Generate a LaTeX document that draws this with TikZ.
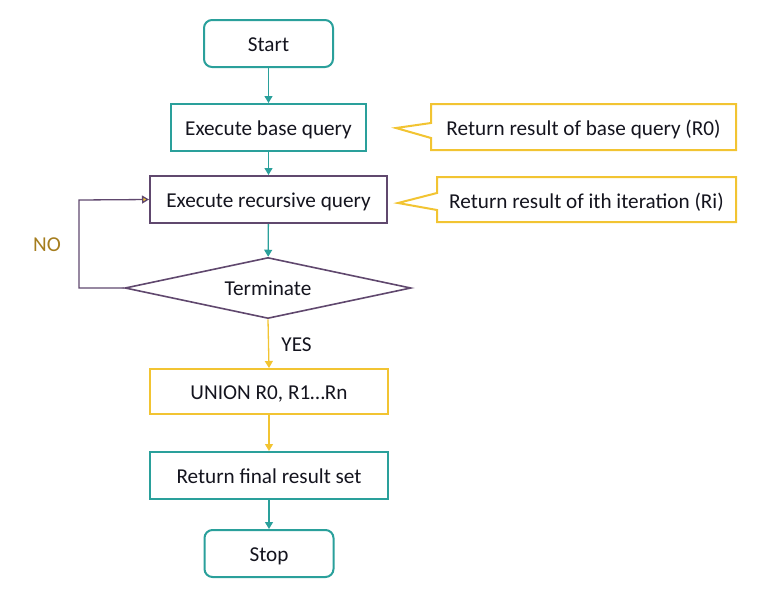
\documentclass[tikz,border=0pt]{standalone}
\usepackage{fontspec}
\setmainfont{Carlito}
\usetikzlibrary{shapes.geometric,arrows.meta}
\definecolor{teal1}{RGB}{42,160,155}
\definecolor{purp}{RGB}{96,72,110}
\definecolor{gold}{RGB}{242,196,50}
\definecolor{nocol}{RGB}{165,125,30}
\definecolor{txt}{RGB}{20,20,30}
\tikzset{
  fnt/.style={font=\fontsize{21.2}{25}\selectfont, text height=15pt, text depth=0pt},
  base/.style={draw, line width=2pt, text=txt, fnt, inner sep=0pt, anchor=center},
  termbox/.style={base, draw=teal1, rounded corners=8pt, minimum width=129pt, minimum height=47pt},
  procbox/.style={base, minimum width=238pt, minimum height=46pt},
  arr/.style={line width=1.3pt, -{Triangle[length=7pt,width=8pt]}},
}
\begin{document}
\begin{tikzpicture}[x=1pt,y=-1pt]
\useasboundingbox (0,0) rectangle (760,600);
% nodes
\node[termbox] (start) at (268.5,43.5) {Start};
\node[procbox, draw=teal1, minimum width=195pt, minimum height=47pt] (basebox) at (268.5,127.5) {Execute base query};
\node[procbox, draw=purp, minimum width=237pt, minimum height=47pt] (rec) at (268.5,199.5) {Execute recursive query};
\node[base, draw=purp, diamond, aspect=4.7, minimum width=286pt, minimum height=61pt, line width=1.6pt] (term) at (268,288) {Terminate};
\node[procbox, draw=gold, minimum width=238pt, minimum height=45pt] (union) at (269,391.5) {UNION R0, R1…Rn};
\node[procbox, draw=teal1, minimum width=238pt, minimum height=47pt] (final) at (269,475.5) {Return final result set};
\node[termbox] (stop) at (269,553.5) {Stop};
% callouts
\coordinate (t1) at (396,128);
\coordinate (t2) at (398,203);
\draw[gold, line width=2pt, line join=miter] (431,123) -- (431,104) -- (736,104) -- (736,150) -- (431,150) -- (431,138) -- (t1) -- cycle;
\node[text=txt, fnt] (c1) at (583.5,127.5) {Return result of base query (R0)};
\draw[gold, line width=2pt, line join=miter] (437,193) -- (437,177) -- (736,177) -- (736,222) -- (437,222) -- (437,210) -- (t2) -- cycle;
\node[text=txt, fnt] (c2) at (586.5,200.5) {Return result of ith iteration (Ri)};
% connectors
\draw[arr, teal1] (start) -- (basebox);
\draw[arr, teal1] (basebox) -- (rec);
\draw[arr, teal1] (rec) -- (term);
\draw[arr, gold] (term.south) -- (union.north) node[midway, right=9pt, text=txt, fnt] (yes) {YES};
\draw[arr, gold] (union) -- (final);
\draw[arr, teal1] (final) -- (stop);
\coordinate (l1) at (79,288);
\coordinate (l2) at (79,200);
\draw[purp, line width=1.3pt, -{Triangle[open,length=7pt,width=8pt,fill=gold]}] (term.west) -- (l1) -- (l2) -- (rec.west);
\node[text=nocol, fnt] (no) at (47,244) {NO};
\end{tikzpicture}
\end{document}
